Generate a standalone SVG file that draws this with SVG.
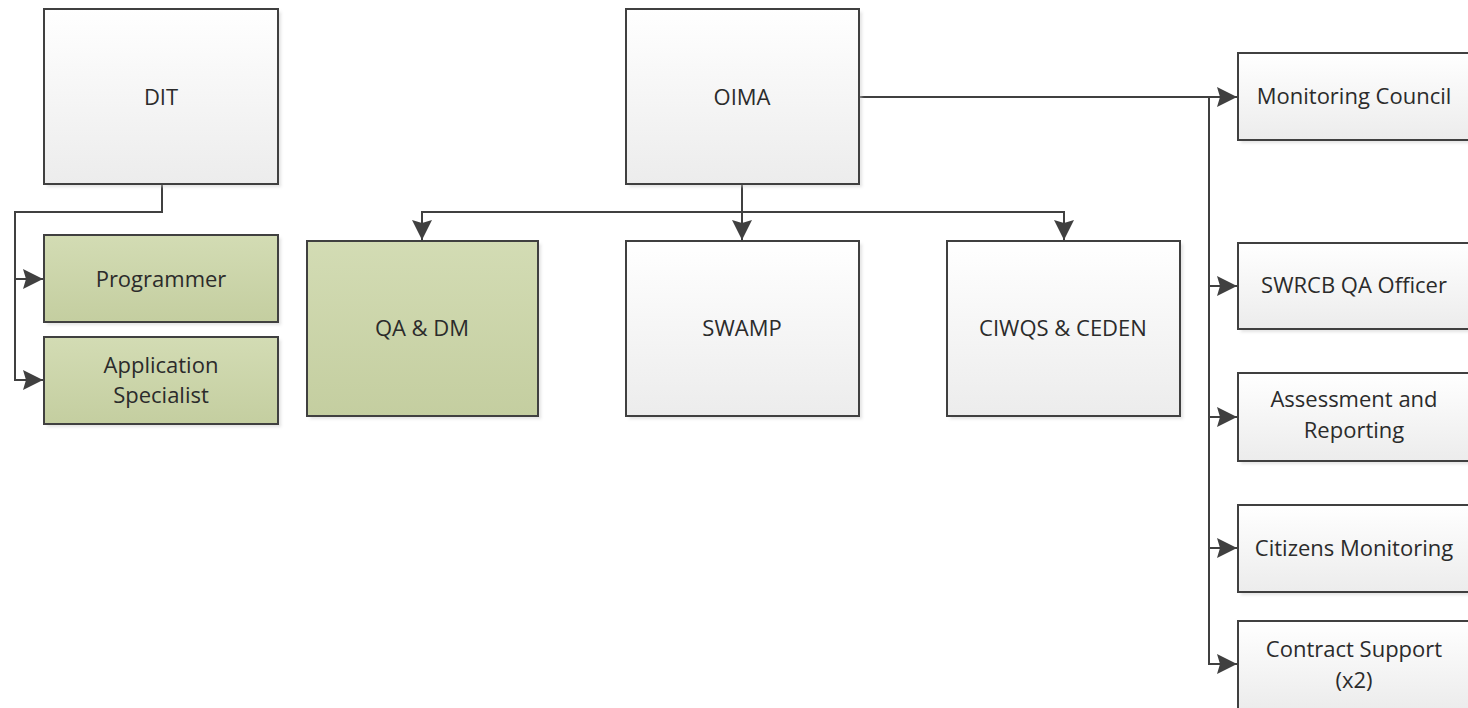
<svg xmlns="http://www.w3.org/2000/svg" width="1468" height="708" viewBox="0 0 1468 708">
<style>
.box{stroke:#404040;stroke-width:2}
.g{fill:url(#gray)}
.gr{fill:url(#green)}
.sh{fill:#c8c8c8;opacity:0.5;filter:url(#blur)}
text{font-family:"Open Sans","Liberation Sans",sans-serif;font-size:22px;fill:#2b2b2b;text-anchor:middle}
.c{fill:none;stroke:#404040;stroke-width:2}
</style>
<defs>
<linearGradient id="gray" x1="0" y1="0" x2="0" y2="1"><stop offset="0" stop-color="#ffffff"/><stop offset="1" stop-color="#ececec"/></linearGradient>
<linearGradient id="green" x1="0" y1="0" x2="0" y2="1"><stop offset="0" stop-color="#d3dcb4"/><stop offset="1" stop-color="#c4cea0"/></linearGradient>
<filter id="blur" x="-10%" y="-10%" width="120%" height="120%"><feGaussianBlur stdDeviation="1.5"/></filter>
<marker id="arr" markerUnits="userSpaceOnUse" markerWidth="22" markerHeight="22" viewBox="0 0 22 22" refX="21" refY="11" orient="auto"><path d="M1,1 L21,11 L1,21 L4,11 Z" fill="#404040"/></marker>
</defs>
<g id="connectors">
<path class="c" d="M162,184 V212 H15 V279 H43" marker-end="url(#arr)"/>
<path class="c" d="M15,279 V380 H43" marker-end="url(#arr)"/>
<path class="c" d="M742,184 V240" marker-end="url(#arr)"/>
<path class="c" d="M742,212 H422 V240" marker-end="url(#arr)"/>
<path class="c" d="M742,212 H1064 V240" marker-end="url(#arr)"/>
<path class="c" d="M859,97 H1237" marker-end="url(#arr)"/>
<path class="c" d="M1209,97 V286 H1237" marker-end="url(#arr)"/>
<path class="c" d="M1209,286 V417 H1237" marker-end="url(#arr)"/>
<path class="c" d="M1209,417 V548 H1237" marker-end="url(#arr)"/>
<path class="c" d="M1209,548 V664 H1237" marker-end="url(#arr)"/>
</g>
<g id="dit"><rect class="sh" x="47" y="12" width="234" height="175"/><rect class="box g" x="44" y="9" width="234" height="175"/><text x="161" y="105">DIT</text></g>
<g id="oima"><rect class="sh" x="629" y="12" width="233" height="175"/><rect class="box g" x="626" y="9" width="233" height="175"/><text x="742" y="105">OIMA</text></g>
<g id="programmer"><rect class="sh" x="47" y="238" width="234" height="87"/><rect class="box gr" x="44" y="235" width="234" height="87"/><text x="161" y="287">Programmer</text></g>
<g id="appspec"><rect class="sh" x="47" y="340" width="234" height="87"/><rect class="box gr" x="44" y="337" width="234" height="87"/><text x="161" y="373">Application</text><text x="161" y="403">Specialist</text></g>
<g id="qadm"><rect class="sh" x="310" y="244" width="231" height="175"/><rect class="box gr" x="307" y="241" width="231" height="175"/><text x="422" y="336">QA &amp; DM</text></g>
<g id="swamp"><rect class="sh" x="629" y="244" width="233" height="175"/><rect class="box g" x="626" y="241" width="233" height="175"/><text x="742" y="336">SWAMP</text></g>
<g id="ciwqs"><rect class="sh" x="950" y="244" width="233" height="175"/><rect class="box g" x="947" y="241" width="233" height="175"/><text x="1063" y="336">CIWQS &amp; CEDEN</text></g>
<g id="council"><rect class="sh" x="1241" y="56" width="233" height="87"/><rect class="box g" x="1238" y="53" width="233" height="87"/><text x="1354" y="104">Monitoring Council</text></g>
<g id="swrcb"><rect class="sh" x="1241" y="246" width="233" height="86"/><rect class="box g" x="1238" y="243" width="233" height="86"/><text x="1354" y="293">SWRCB QA Officer</text></g>
<g id="assess"><rect class="sh" x="1241" y="376" width="233" height="88"/><rect class="box g" x="1238" y="373" width="233" height="88"/><text x="1354" y="407">Assessment and</text><text x="1354" y="438">Reporting</text></g>
<g id="citizens"><rect class="sh" x="1241" y="508" width="233" height="87"/><rect class="box g" x="1238" y="505" width="233" height="87"/><text x="1354" y="556">Citizens Monitoring</text></g>
<g id="contract"><rect class="sh" x="1241" y="624" width="233" height="88"/><rect class="box g" x="1238" y="621" width="233" height="88"/><text x="1354" y="657">Contract Support</text><text x="1354" y="688">(x2)</text></g>
</svg>
